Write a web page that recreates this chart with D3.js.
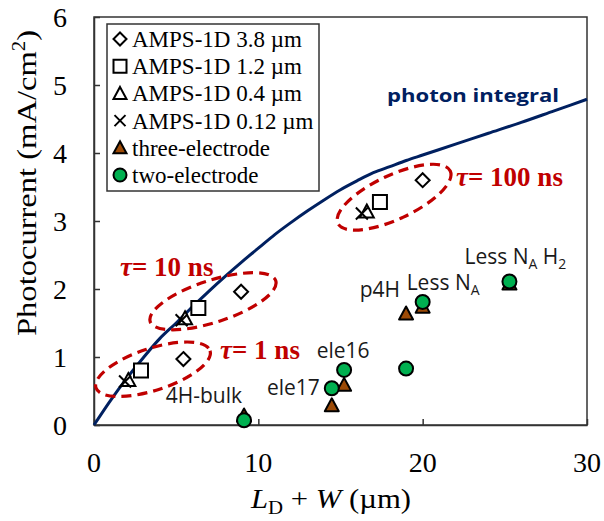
<!DOCTYPE html>
<html>
<head>
<meta charset="utf-8">
<script src="https://cdn.jsdelivr.net/npm/d3@7"></script>
<style>
  html, body { margin: 0; padding: 0; background: #fff; }
  svg { display: block; }
</style>
</head>
<body>
<svg id="chart" width="604" height="521"></svg>
<script>
// ---- data ----
const xTicks = [0, 10, 20, 30];
const yTicks = [0, 1, 2, 3, 4, 5, 6];

// photon integral curve
const photonX = [0, 1, 2, 3, 4, 5, 6, 7, 8, 9, 10, 11, 12, 13, 14, 15, 16, 17, 18, 19, 20, 22, 24, 26, 28, 30];
const photonY = [0, 0.36, 0.69, 0.99, 1.27, 1.50, 1.74, 1.97, 2.19, 2.40, 2.60, 2.80, 2.98, 3.15, 3.31, 3.46, 3.59, 3.71, 3.80, 3.89, 3.97, 4.13, 4.29, 4.45, 4.62, 4.79];

// AMPS-1D simulations for tau = 1, 10, 100 ns
const tauLabels = ["1 ns", "10 ns", "100 ns"];
const amps38X = [5.44, 8.95, 20.0], amps38Y = [0.97, 1.96, 3.60];
const amps12X = [2.86, 6.35, 17.4], amps12Y = [0.80, 1.72, 3.28];
const amps04X = [2.09, 5.54, 16.6], amps04Y = [0.66, 1.57, 3.14];
const amps012X = [1.89, 5.33, 16.3], amps012Y = [0.64, 1.54, 3.11];

// measured samples
const sampleNames = ["4H-bulk", "ele17", "ele16", "p4H", "Less NA", "Less NA H2"];
const sampleX = [9.13, 14.47, 15.22, 18.99, 20.0, 25.28];
const threeElectrode = [0.14, 0.29, 0.59, 1.64, 1.74, 2.08];
const twoElectrode = [0.07, 0.54, 0.81, 0.83, 1.81, 2.11];

// tau group ellipses (centre in data units)
const ellipseCX = [3.59, 7.24, 18.26];
const ellipseCY = [0.82, 1.82, 3.35];

// ---- layout ----
const svg = d3.select("#chart");
const plotLeft = 94, plotRight = 587, plotTop = 17, plotBottom = 425;
const x = d3.scaleLinear().domain([0, 30]).range([plotLeft, plotRight]);
const y = d3.scaleLinear().domain([0, 6]).range([plotBottom, plotTop]);

const serif = "'Liberation Serif', 'Times New Roman', serif";
const sans = "'Open Sans', 'Noto Sans', sans-serif";
const navy = "#002060", red = "#c00000", green = "#00b050", brown = "#9c4a06";

// ---- marker shapes ----
function shapePath(kind, s) {
  const h = s / 2;
  switch (kind) {
    case "diamond": return `M0,${-h}L${h},0L0,${h}L${-h},0Z`;
    case "square": return `M${-h},${-h}H${h}V${h}H${-h}Z`;
    case "triangle": return `M0,${-h}L${h},${h * 0.85}L${-h},${h * 0.85}Z`;
    case "cross": return `M${-h},${-h}L${h},${h}M${-h},${h}L${h},${-h}`;
    case "circle": return d3.arc()({innerRadius: 0, outerRadius: h, startAngle: 0, endAngle: 2 * Math.PI});
  }
}

// ---- plot frame ----
svg.append("rect")
  .attr("x", plotLeft).attr("y", plotTop)
  .attr("width", plotRight - plotLeft).attr("height", plotBottom - plotTop)
  .attr("fill", "none").attr("stroke", "#333").attr("stroke-width", 1.5);

// axes with inward ticks
const xAxis = svg.append("g").attr("transform", `translate(0,${plotBottom})`)
  .call(d3.axisBottom(x).tickValues(xTicks).tickSizeInner(-6).tickSizeOuter(0).tickFormat(""));
const yAxis = svg.append("g").attr("transform", `translate(${plotLeft},0)`)
  .call(d3.axisLeft(y).tickValues(yTicks).tickSizeInner(-6).tickSizeOuter(0).tickFormat(""));
[xAxis, yAxis].forEach(g => {
  g.select(".domain").attr("stroke", "#333").attr("stroke-width", 1.5);
  g.selectAll(".tick line").attr("stroke", "#333").attr("stroke-width", 1.5);
});

// tick labels
svg.append("g").selectAll("text").data(xTicks).join("text")
  .attr("x", d => x(d)).attr("y", 472)
  .attr("text-anchor", "middle")
  .attr("font-family", serif).attr("font-size", 28).attr("fill", "#000")
  .text(d => d);
svg.append("g").selectAll("text").data(yTicks).join("text")
  .attr("x", 67).attr("y", d => y(d) + 10)
  .attr("text-anchor", "end")
  .attr("font-family", serif).attr("font-size", 28).attr("fill", "#000")
  .text(d => d);

// axis titles
const yTitle = svg.append("text")
  .attr("transform", "translate(36,183) rotate(-90)")
  .attr("text-anchor", "middle")
  .attr("font-family", serif).attr("font-size", 28).attr("fill", "#000")
  .attr("textLength", 306).attr("lengthAdjust", "spacingAndGlyphs");
yTitle.append("tspan").text("Photocurrent (mA/cm");
yTitle.append("tspan").attr("font-size", 18).attr("dy", -11).text("2");
yTitle.append("tspan").attr("dy", 11).text(")");

const xTitle = svg.append("text")
  .attr("x", 331).attr("y", 508)
  .attr("text-anchor", "middle")
  .attr("font-family", serif).attr("font-size", 28).attr("fill", "#000")
  .attr("textLength", 160).attr("lengthAdjust", "spacingAndGlyphs");
xTitle.append("tspan").attr("font-style", "italic").text("L");
xTitle.append("tspan").attr("font-size", 19).attr("dy", 6).text("D");
xTitle.append("tspan").attr("dy", -6).text(" + ");
xTitle.append("tspan").attr("font-style", "italic").text("W");
xTitle.append("tspan").text(" (\u00b5m)");

// ---- photon integral curve ----
const photon = photonX.map((v, i) => [v, photonY[i]]);
svg.append("path")
  .datum(photon)
  .attr("fill", "none").attr("stroke", navy).attr("stroke-width", 3)
  .attr("d", d3.line().x(d => x(d[0])).y(d => y(d[1])).curve(d3.curveMonotoneX));

svg.append("text")
  .attr("x", 387).attr("y", 102)
  .attr("font-family", sans).attr("font-weight", "bold").attr("font-size", 18)
  .attr("fill", navy)
  .attr("textLength", 172).attr("lengthAdjust", "spacingAndGlyphs")
  .text("photon integral");

// ---- tau ellipses ----
const ellipseA = [60, 66, 62], ellipseB = [21, 21, 22], ellipseRot = [18, 18, 25];
svg.append("g").selectAll("ellipse").data(ellipseCX).join("ellipse")
  .attr("transform", (d, i) => `translate(${x(d)},${y(ellipseCY[i])}) rotate(${-ellipseRot[i]})`)
  .attr("rx", (d, i) => ellipseA[i]).attr("ry", (d, i) => ellipseB[i])
  .attr("fill", "none").attr("stroke", red).attr("stroke-width", 3.2)
  .attr("stroke-dasharray", "10,6");

const tauPos = [[220, 359], [120, 276], [456, 186]];
tauLabels.forEach((t, i) => {
  const tx = svg.append("text")
    .attr("x", tauPos[i][0]).attr("y", tauPos[i][1])
    .attr("font-family", serif).attr("font-weight", "bold").attr("font-size", 27)
    .attr("fill", red);
  tx.append("tspan").attr("font-style", "italic").text("\u03c4");
  tx.append("tspan").text("= " + t);
});

// ---- AMPS-1D markers ----
const ampsSeries = [
  {xs: amps38X, ys: amps38Y, shape: "diamond", size: 14},
  {xs: amps12X, ys: amps12Y, shape: "square", size: 14},
  {xs: amps04X, ys: amps04Y, shape: "triangle", size: 14},
  {xs: amps012X, ys: amps012Y, shape: "cross", size: 12}
];
ampsSeries.forEach(s => {
  svg.append("g").selectAll("path").data(s.xs).join("path")
    .attr("transform", (d, i) => `translate(${x(d)},${y(s.ys[i])})`)
    .attr("d", shapePath(s.shape, s.size))
    .attr("fill", s.shape === "cross" ? "none" : "#fff")
    .attr("stroke", "#000").attr("stroke-width", 2);
});

// ---- measured samples ----
svg.append("g").selectAll("path").data(sampleX).join("path")
  .attr("transform", (d, i) => `translate(${x(d)},${y(threeElectrode[i])})`)
  .attr("d", shapePath("triangle", 14))
  .attr("fill", brown).attr("stroke", "#000").attr("stroke-width", 2).attr("stroke-linejoin", "round");
svg.append("g").selectAll("path").data(sampleX).join("path")
  .attr("transform", (d, i) => `translate(${x(d)},${y(twoElectrode[i])})`)
  .attr("d", shapePath("circle", 14))
  .attr("fill", green).attr("stroke", "#000").attr("stroke-width", 2);

// sample labels (offsets from a marker of the same sample)
const labelOffset = [
  {dx: -2, dy: -17, anchor: "end", ref: twoElectrode},
  {dx: -12, dy: 7, anchor: "end", ref: twoElectrode},
  {dx: -1, dy: -12, anchor: "middle", ref: twoElectrode},
  {dx: -6, dy: -16, anchor: "end", ref: threeElectrode},
  {dx: -16, dy: -12, anchor: "start", ref: twoElectrode},
  {dx: 6, dy: -18, anchor: "middle", ref: twoElectrode}
];
sampleNames.forEach((name, i) => {
  const o = labelOffset[i];
  const t = svg.append("text")
    .attr("x", x(sampleX[i]) + o.dx).attr("y", y(o.ref[i]) + o.dy)
    .attr("text-anchor", o.anchor)
    .attr("font-family", sans).attr("font-size", 21).attr("fill", "#1a1a1a");
  if (name.startsWith("Less NA")) {
    t.append("tspan").text("Less N");
    t.append("tspan").attr("font-size", 14).attr("dy", 5).text("A");
    if (name.endsWith("H2")) {
      t.append("tspan").attr("dy", -5).text(" H");
      t.append("tspan").attr("font-size", 14).attr("dy", 5).text("2");
    }
  } else {
    t.text(name);
  }
});

// ---- legend ----
const legendItems = [
  {label: "AMPS-1D 3.8 \u00b5m", shape: "diamond", fill: "#fff", size: 13},
  {label: "AMPS-1D 1.2 \u00b5m", shape: "square", fill: "#fff", size: 13},
  {label: "AMPS-1D 0.4 \u00b5m", shape: "triangle", fill: "#fff", size: 13},
  {label: "AMPS-1D 0.12 \u00b5m", shape: "cross", fill: "none", size: 11},
  {label: "three-electrode", shape: "triangle", fill: brown, size: 13},
  {label: "two-electrode", shape: "circle", fill: green, size: 13}
];
const legend = svg.append("g");
legend.append("rect")
  .attr("x", 107).attr("y", 24).attr("width", 212).attr("height", 167)
  .attr("fill", "#fff").attr("stroke", "#333").attr("stroke-width", 1.5);
legendItems.forEach((it, i) => {
  const cy = 39 + i * 27.2;
  legend.append("path")
    .attr("transform", `translate(120,${cy})`)
    .attr("d", shapePath(it.shape, it.size))
    .attr("fill", it.fill).attr("stroke", "#000").attr("stroke-width", 2);
  legend.append("text")
    .attr("x", 132).attr("y", cy + 8)
    .attr("font-family", serif).attr("font-size", 23).attr("fill", "#000")
    .text(it.label);
});
</script>
</body>
</html>
